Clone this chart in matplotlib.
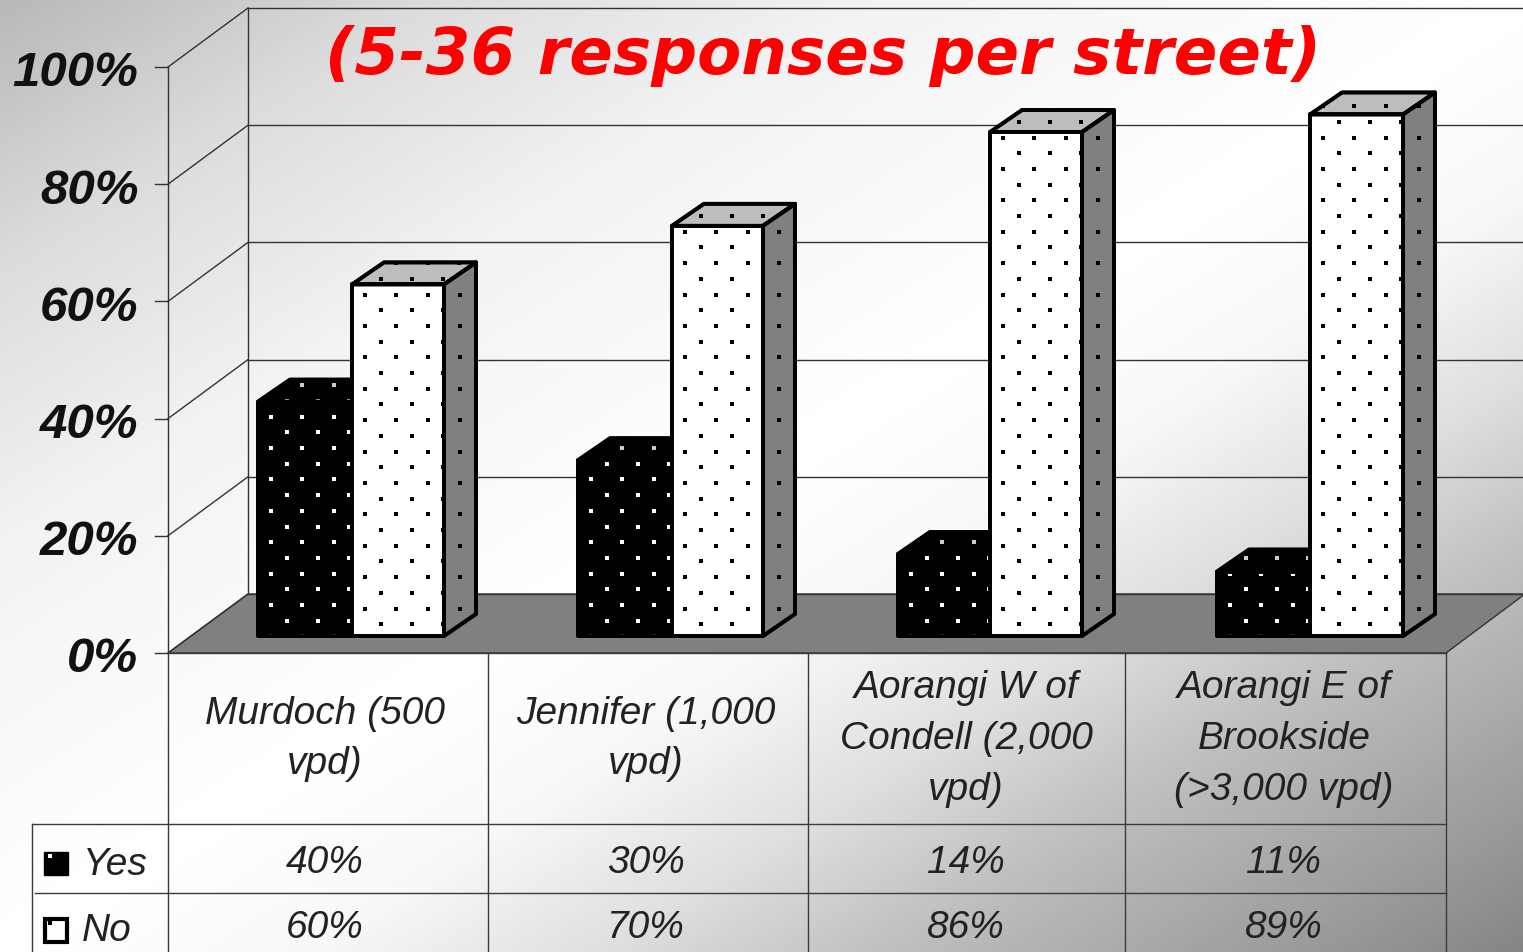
import numpy as np
import matplotlib
matplotlib.use("Agg")
import matplotlib.pyplot as plt
from matplotlib.patches import Polygon

streets = ["Murdoch (500\nvpd)", "Jennifer (1,000\nvpd)",
           "Aorangi W of\nCondell (2,000\nvpd)", "Aorangi E of\nBrookside\n(>3,000 vpd)"]
yes_vals = [40, 30, 14, 11]
no_vals = [60, 70, 86, 89]
y_ticks = [0, 20, 40, 60, 80, 100]
title = "(5-36 responses per street)"

W, H = 1523, 953
PX = 5.86          # pixels per percentage point
Y0 = 654           # pixel row of 0% at the front edge
def v_of_px(p):
    return (Y0 - p) / PX

fig = plt.figure(figsize=(W / 100, H / 100), dpi=100)
ax = fig.add_axes([0, 0, 1, 1])
ax.set_xlim(0, W)
ax.set_ylim(v_of_px(H), v_of_px(0))
ax.axis("off")

# slide background
xx, yy = np.meshgrid(np.linspace(0, 1, 381), np.linspace(0, 1, 239))
t = (xx + yy) / 2
g = np.interp(t, [0, 0.14, 0.29, 0.5, 0.6, 0.7, 0.79, 0.95, 1.0],
              [0.72, 0.86, 0.95, 1.0, 0.97, 0.87, 0.75, 0.58, 0.52])
ax.imshow(g, extent=(0, W, v_of_px(H), v_of_px(0)), cmap="gray", vmin=0, vmax=1,
          aspect="auto", zorder=0, interpolation="bilinear")

DX, DY = 80, 59 / PX    # wall depth
LW = 1.0
LC = "#333333"
x_l, x_r = 168, 1446

# floor
ax.add_patch(Polygon([(x_l, 0), (x_l + DX, DY), (W + 2, DY), (x_r, 0)], fc="#808080",
                     ec=LC, lw=LW, zorder=1))
# walls and grid
for v in y_ticks:
    ax.plot([x_l, x_l + DX], [v, v + DY], color=LC, lw=LW, zorder=1.5)
    ax.plot([x_l + DX, W], [v + DY, v + DY], color=LC, lw=LW, zorder=1.5)
    ax.plot([x_l - 13, x_l], [v, v], color=LC, lw=LW, zorder=1.5)
    ax.text(138.5, v - 6 / PX, f"{v}%", ha="right", va="center", fontsize=35.5, family="Liberation Sans",
            fontweight="bold", fontstyle="italic", color="#111111", zorder=5)
ax.plot([x_l, x_l], [0, 100], color=LC, lw=LW, zorder=1.5)
ax.plot([x_l + DX, x_l + DX], [DY, 100 + DY], color=LC, lw=LW, zorder=1.5)

# bars
LIFT = 17 / PX
bx = [258, 578, 898, 1217]
wy = [94, 94, 92, 93]
wn = [92, 91, 92, 93]
BDX, BDY = 32, 22 / PX
SP = 31.4
EW = 2.7

def dots(poly, x0, y0, color, z):
    """Staggered dot lattice clipped to a polygon."""
    xs, ys = [], []
    for i in range(-2, 14):
        for j in range(-30, 30):
            xs += [x0 + i * SP, x0 + (i + .5) * SP]
            ys += [y0 + j * SP / PX, y0 + (j - .5) * SP / PX]
    sc = ax.scatter(xs, ys, s=12, marker="s", color=color, lw=0, zorder=z)
    sc.set_clip_path(poly)

def bar(x, w, v, front, top, side, dotc, sidedot, phase, z):
    b, h = LIFT, LIFT + v
    faces = [
        ([(x, b), (x + w, b), (x + w, h), (x, h)], front, dotc, x + 13),
        ([(x, h), (x + w, h), (x + w + BDX, h + BDY), (x + BDX, h + BDY)], top, sidedot, x + 13),
        ([(x + w, b), (x + w + BDX, b + BDY), (x + w + BDX, h + BDY), (x + w, h)], side, sidedot, x + w + 16),
    ]
    for pts, fc, dc, x0 in faces:
        p = Polygon(pts, fc=fc, ec="black", lw=EW, joinstyle="round", zorder=z)
        ax.add_patch(p)
        dots(p, x0, LIFT + phase / PX, dc, z + .1)
        ax.add_patch(Polygon(pts, fc="none", ec="black", lw=EW, joinstyle="round", zorder=z + .2))

for i, x in enumerate(bx):
    bar(x, wy[i], yes_vals[i], "black", "black", "black", "white", "#cccccc", 31, 2 + i)
    bar(x + wy[i], wn[i], no_vals[i], "white", "#bdbdbd", "#808080", "black", "black", 27.5, 2.5 + i)

# data table
def hl(p, a, b):
    ax.plot([a, b], [v_of_px(p)] * 2, color="#3a3a3a", lw=LW, zorder=1.5)
def vl(x, a, b):
    ax.plot([x, x], [v_of_px(a), v_of_px(b)], color="#3a3a3a", lw=LW, zorder=1.5)

hl(654, x_l, x_r)
hl(825, 32, x_r)
hl(894, 35, x_r)
vl(32, 825, H)
for x in [168, 488, 808, 1125, 1446]:
    vl(x, 654, H)

cols = [325, 646, 966, 1284]
tc = "#222222"
tkw = dict(ha="center", va="center", fontsize=28, family="Liberation Sans",
           fontstyle="italic", color=tc, zorder=5)
for i, cx in enumerate(cols):
    ax.text(cx, v_of_px(739), streets[i], linespacing=1.52, **tkw)
    ax.text(cx, v_of_px(863), f"{yes_vals[i]}%", **tkw)
    ax.text(cx, v_of_px(928), f"{no_vals[i]}%", **tkw)

# legend keys
ax.text(83, v_of_px(865), "Yes", **{**tkw, "ha": "left"})
ax.text(82, v_of_px(931), "No", **{**tkw, "ha": "left"})
ax.add_patch(Polygon([(44, v_of_px(853)), (68, v_of_px(853)), (68, v_of_px(876)), (44, v_of_px(876))],
                     fc="black", ec="black", lw=1, zorder=5))
ax.add_patch(Polygon([(45, v_of_px(920)), (67, v_of_px(920)), (67, v_of_px(943)), (45, v_of_px(943))],
                     fc="white", ec="black", lw=3, zorder=5))
ax.scatter([50], [v_of_px(857)], s=6, marker="s", color="white", lw=0, zorder=6)
ax.scatter([50], [v_of_px(924)], s=6, marker="s", color="black", lw=0, zorder=6)

ax.text(823, v_of_px(56), title, ha="center", va="center", fontsize=46.3, family="DejaVu Sans",
        fontweight="bold", fontstyle="italic", color="#ff0000", zorder=6)

fig.savefig("out.png", dpi=100)
